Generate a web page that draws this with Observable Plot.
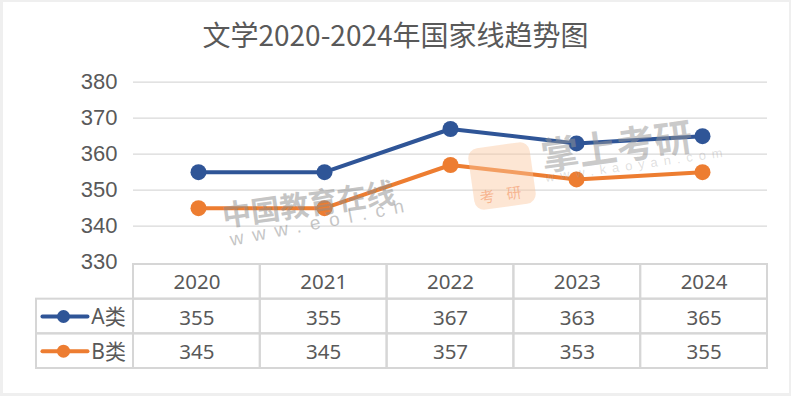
<!DOCTYPE html>
<html>
<head>
<meta charset="utf-8">
<script src="https://cdn.jsdelivr.net/npm/d3@7"></script>
<script src="https://cdn.jsdelivr.net/npm/@observablehq/plot@0.6"></script>
<style>
  html, body { margin: 0; padding: 0; background: #efefef; }
  #frame { position: relative; width: 791px; height: 396px; overflow: hidden; background: #efefef; }
  #panel { position: absolute; left: 3px; top: 2px; width: 786px; height: 391px; background: #ffffff; }
  #title { position: absolute; left: 0; top: 14px; width: 791px; text-align: center;
           font-family: "Noto Sans CJK SC", sans-serif; font-size: 28px; line-height: 40px; color: #595959; }
  #chart { position: absolute; left: 0; top: 64px; }
  #table { position: absolute; left: 0; top: 256px; }
  .wm { position: absolute; white-space: nowrap; font-family: "Noto Sans CJK SC", sans-serif; pointer-events: none; }
  #wm1 { left: 222px; top: 193px; font-size: 29px; font-weight: 700; color: rgba(140,140,140,0.5); transform: rotate(-8deg); transform-origin: left center; }
  #wm2 { left: 230px; top: 229px; font-size: 19px; letter-spacing: 9px; color: rgba(140,140,140,0.5); font-family: "Liberation Sans", sans-serif; transform: rotate(-11deg); transform-origin: left center; }
  #wm3 { left: 541px; top: 127px; font-size: 38px; font-weight: 700; color: rgba(150,150,150,0.5); transform: rotate(-8deg); transform-origin: left center; }
  #wm4 { left: 545px; top: 170px; font-size: 13px; letter-spacing: 6px; color: rgba(150,150,150,0.3); font-family: "Liberation Sans", sans-serif; transform: rotate(-8deg); transform-origin: left center; }
  #wm5 { left: 471px; top: 145px; width: 62px; height: 62px; border-radius: 10px; background: rgba(251,200,160,0.45); transform: rotate(-8deg); }
  #wm5 span { position: absolute; left: 6px; bottom: 3px; font-size: 15px; letter-spacing: 12px; color: rgba(240,120,60,0.45); font-family: "Noto Sans CJK SC", sans-serif; }
</style>
</head>
<body>
<div id="frame">
  <div id="panel"></div>
  <div id="title">文学2020-2024年国家线趋势图</div>
  <div id="chart"></div>
  <div id="table"></div>
  <div class="wm" id="wm5"><span>考研</span></div>
  <div class="wm" id="wm1">中国教育在线</div>
  <div class="wm" id="wm2">www.eol.cn</div>
  <div class="wm" id="wm3">掌上考研</div>
  <div class="wm" id="wm4">www.kaoyan.com</div>
</div>
<script>
// ---- data ----
const years = ["2020", "2021", "2022", "2023", "2024"];
const seriesNames = ["A类", "B类"];
const valuesA = [355, 355, 367, 363, 365];
const valuesB = [345, 345, 357, 353, 355];
const yTicks = [330, 340, 350, 360, 370, 380];
const seriesColors = ["#2f5597", "#ed7d31"];

const seriesValues = [valuesA, valuesB];
const rows = [];
seriesNames.forEach((s, si) => years.forEach((y, i) => rows.push({series: s, year: y, value: seriesValues[si][i]})));

// ---- line chart ----
const chart = Plot.plot({
  width: 791,
  height: 200,
  marginLeft: 133,
  marginRight: 24,
  marginTop: 0,
  marginBottom: 0,
  style: {fontFamily: "'Liberation Sans', Arial, sans-serif", fontSize: "22px", color: "#595959", background: "transparent", overflow: "visible"},
  x: {type: "band", domain: years, range: [133, 767], padding: 0, axis: null},
  y: {domain: [330, 380], range: [197.7, 17.7]},
  color: {domain: seriesNames, range: seriesColors},
  marks: [
    Plot.ruleY(yTicks.filter(v => v > 330), {stroke: "#d9d9d9", strokeWidth: 1.3}),
    Plot.axisY({ticks: yTicks, tickSize: 0, tickPadding: 16, label: null, fontSize: 22, fill: "#595959"}),
    Plot.line(rows, {x: "year", y: "value", z: "series", stroke: "series", strokeWidth: 4}),
    Plot.dot(rows, {x: "year", y: "value", fill: "series", r: 8, stroke: "none"})
  ]
});
document.getElementById("chart").appendChild(chart);

// ---- data table ----
// x: column units (years at 0..4, legend column to the left); y: row units (header, A, B)
const legendLeft = -0.765;
const cells = [];
years.forEach((y, i) => [0, 1, 2].forEach(r => cells.push({x1: i, x2: i + 1, y1: r, y2: r + 1})));
[1, 2].forEach(r => cells.push({x1: legendLeft, x2: 0, y1: r, y2: r + 1}));

const headerTexts = years.map((y, i) => ({x: i + 0.5, y: 0.5, text: y}));
const valueTexts = [];
seriesNames.forEach((s, si) => years.forEach((y, i) => valueTexts.push({x: i + 0.5, y: si + 1.5, text: String(seriesValues[si][i])})));
const legendRows = seriesNames.map((s, si) => ({series: s, y: si + 1.5}));

const table = Plot.plot({
  width: 791,
  height: 120,
  marginLeft: 36,
  marginRight: 24,
  marginTop: 0,
  marginBottom: 0,
  style: {fontFamily: "'Noto Sans', 'Noto Sans CJK SC', sans-serif", fontSize: "20px", color: "#595959", background: "transparent", overflow: "visible"},
  x: {domain: [legendLeft, 5], range: [36, 767], axis: null},
  y: {domain: [0, 3], range: [8, 112], axis: null},
  color: {domain: seriesNames, range: seriesColors},
  marks: [
    Plot.rect(cells, {x1: "x1", x2: "x2", y1: "y1", y2: "y2", fill: "none", stroke: "#d6d6d6", strokeWidth: 2}),
    Plot.text(headerTexts, {x: "x", y: "y", dy: 1, text: "text", fontSize: 20.5, fill: "#595959"}),
    Plot.text(valueTexts, {x: "x", y: "y", dy: 1.5, text: "text", fontSize: 20.5, fill: "#595959"}),
    Plot.link(legendRows, {x1: -0.718, x2: -0.363, y1: "y", y2: "y", stroke: "series", strokeWidth: 4, strokeLinecap: "round"}),
    Plot.dot(legendRows, {x: -0.552, y: "y", fill: "series", r: 6.5, stroke: "none"}),
    Plot.text(legendRows, {x: -0.333, y: "y", dy: 1, text: "series", textAnchor: "start", fontSize: 21, fill: "#595959"})
  ]
});
document.getElementById("table").appendChild(table);
</script>
</body>
</html>
